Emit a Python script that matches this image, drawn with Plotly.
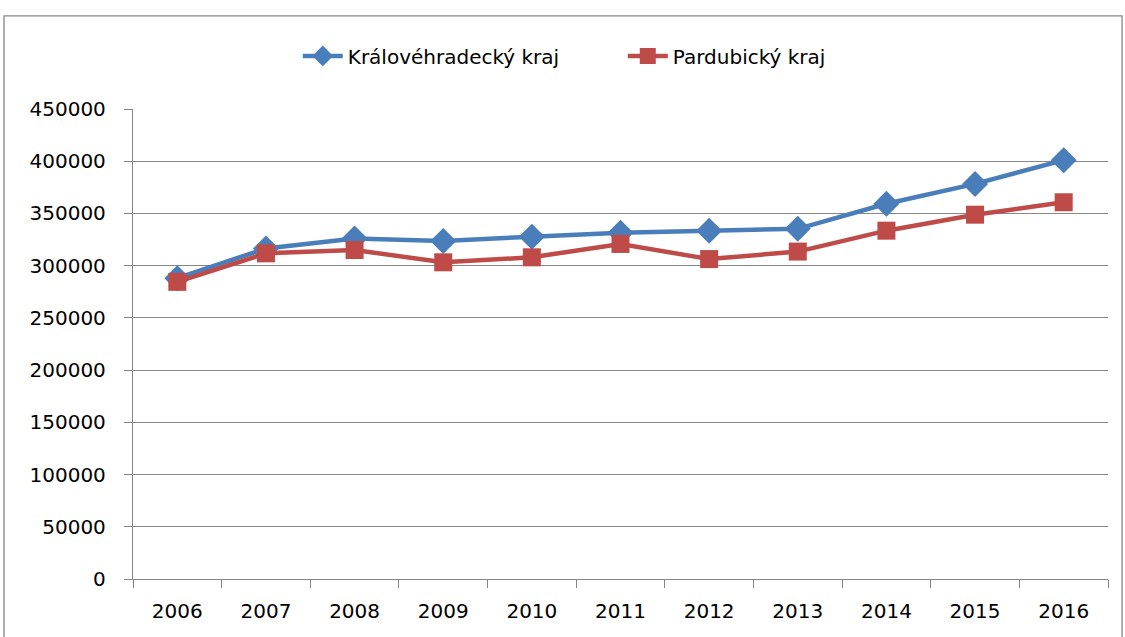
import plotly.graph_objects as go

years = ['2006', '2007', '2008', '2009', '2010', '2011', '2012', '2013', '2014', '2015', '2016']
kralovehradecky = [288000, 316500, 326000, 323500, 327800, 331500, 333500, 335300, 359300, 378300, 401000]
pardubicky = [284500, 311800, 315000, 303200, 308000, 320800, 306300, 313500, 333500, 348800, 360700]

font = dict(family='"DejaVu Sans", sans-serif', size=20, color='#000000')
grid = '#868686'

fig = go.Figure()
fig.add_trace(go.Scatter(x=years, y=kralovehradecky, name='Královéhradecký kraj',
                         mode='lines+markers',
                         line=dict(color='#4A7EBB', width=4.5),
                         marker=dict(symbol='diamond', size=20, color='#4A7EBB')))
fig.add_trace(go.Scatter(x=years, y=pardubicky, name='Pardubický kraj',
                         mode='lines+markers',
                         line=dict(color='#BE4B48', width=4.5),
                         marker=dict(symbol='square', size=18, color='#BE4B48')))

# outer chart border (Excel style)
fig.add_shape(type='rect', xref='paper', yref='paper',
              x0=-0.1323, x1=1.0144, y0=-0.3, y1=1.198,
              line=dict(color=grid, width=1.3), layer='below')

fig.update_layout(
    width=1125, height=637,
    margin=dict(l=133, r=17, t=109, b=58),
    paper_bgcolor='white', plot_bgcolor='white',
    font=font,
    legend=dict(orientation='h', x=0.169, xanchor='left', y=1.113, yanchor='middle',
                font=font, itemwidth=40, entrywidth=270, bgcolor='rgba(0,0,0,0)'),
    showlegend=True,
)
fig.update_xaxes(type='category', range=[-0.5, len(years) - 0.5],
                 tickson='boundaries', ticks='outside', ticklen=8,
                 tickcolor=grid, showgrid=False, showline=True, linecolor=grid,
                 linewidth=1.3, tickfont=font, ticklabelstandoff=14)
fig.update_yaxes(range=[0, 450000], dtick=50000, ticks='outside', ticklen=8,
                 tickcolor=grid, showgrid=True, gridcolor=grid, gridwidth=1.3,
                 showline=True, linecolor=grid, linewidth=1.3, zeroline=False,
                 tickformat='d', tickfont=font, ticklabelstandoff=14)

# page has a default body margin; drop it so the chart sits at the window corner
fig.write_html("out.html", config={'displayModeBar': False},
               post_script="document.body.style.margin='0';")
